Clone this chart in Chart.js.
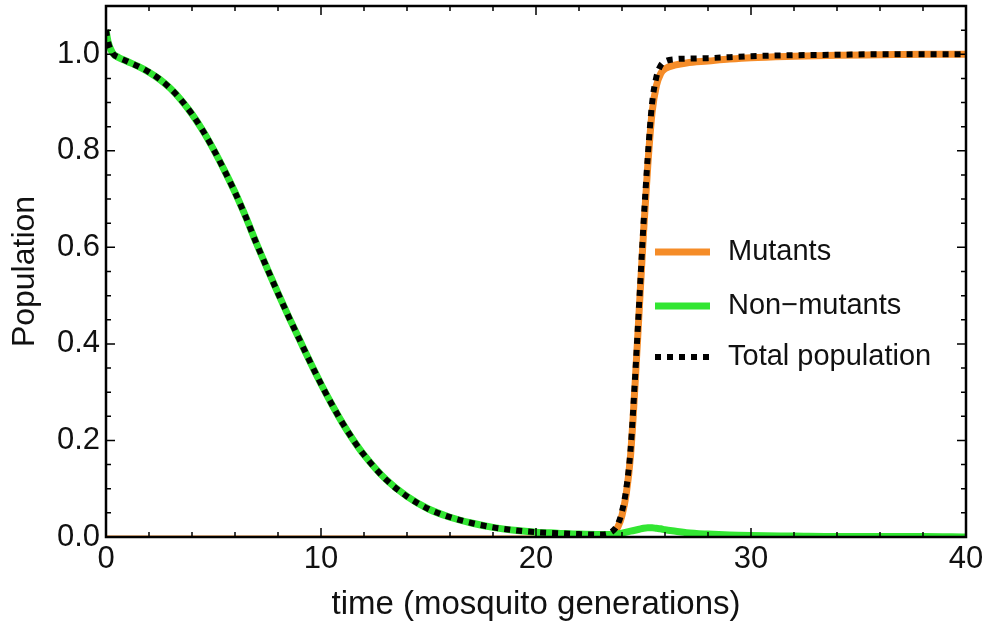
<!DOCTYPE html>
<html>
<head>
<meta charset="utf-8">
<script src="https://cdn.jsdelivr.net/npm/chart.js@4/dist/chart.umd.min.js"></script>
<style>
  html, body { margin: 0; padding: 0; background: #fff; }
  #wrap { width: 986px; height: 630px; }
</style>
</head>
<body>
<div id="wrap"><canvas id="myChart" width="986" height="630"></canvas></div>
<script>
/* Accent colors */
let colorOrange = 'rgb(245, 140, 40)';
let colorGreen = 'rgb(50, 230, 50)';
let colorBlack = 'rgb(0, 0, 0)';

// time (mosquito generations)
const time = [0, 0.1, 0.3, 0.6, 1, 1.5, 2, 2.5, 3, 3.5, 4, 4.5, 5, 5.5, 6, 6.5, 7, 7.5, 8, 8.5,
  9, 9.5, 10, 10.5, 11, 11.5, 12, 13, 14, 15, 16, 17, 18, 19, 20, 21, 22, 23, 23.5, 23.8,
  24, 24.2, 24.4, 24.6, 24.8, 25, 25.2, 25.4, 25.6, 25.8, 26, 26.5, 27, 28, 29, 30, 32, 34, 36, 38, 40];

const mutants = [-0.004, -0.004, -0.004, -0.004, -0.004, -0.004, -0.004, -0.004, -0.004, -0.004, -0.004, -0.004, -0.004, -0.004, -0.004, -0.004, -0.004, -0.004, -0.004, -0.004,
  -0.004, -0.004, -0.004, -0.004, -0.004, -0.004, -0.004, -0.004, -0.004, -0.004, -0.004, -0.004, -0.004, -0.004, -0.004, -0.004, -0.004, -0.003, 0.005, 0.02,
  0.045, 0.09, 0.17, 0.31, 0.47, 0.63, 0.77, 0.88, 0.935, 0.96, 0.97, 0.978, 0.982, 0.986, 0.99, 0.993, 0.996, 0.998, 0.999, 1.0, 1.0];

const nonMutants = [1.05, 1.025, 1.003, 0.993, 0.985, 0.975, 0.963, 0.948, 0.929, 0.905, 0.876, 0.842, 0.803, 0.76, 0.714, 0.663, 0.608, 0.556, 0.505, 0.456,
  0.409, 0.362, 0.317, 0.275, 0.236, 0.201, 0.17, 0.12, 0.084, 0.058, 0.041, 0.029, 0.02, 0.014, 0.01, 0.008, 0.006, 0.005, 0.005, 0.006,
  0.008, 0.01, 0.012, 0.014, 0.016, 0.018, 0.019, 0.019, 0.018, 0.017, 0.015, 0.012, 0.009, 0.006, 0.004, 0.003, 0.002, 0.001, 0.001, 0.001, 0];

const totalPop = [1.05, 1.025, 1.003, 0.993, 0.985, 0.975, 0.963, 0.948, 0.929, 0.905, 0.876, 0.842, 0.803, 0.76, 0.714, 0.663, 0.608, 0.556, 0.505, 0.456,
  0.409, 0.362, 0.317, 0.275, 0.236, 0.201, 0.17, 0.12, 0.084, 0.058, 0.041, 0.029, 0.02, 0.014, 0.01, 0.008, 0.006, 0.005, 0.01, 0.026,
  0.053, 0.1, 0.182, 0.324, 0.486, 0.648, 0.789, 0.899, 0.953, 0.977, 0.985, 0.99, 0.991, 0.992, 0.994, 0.996, 0.998, 0.999, 1.0, 1.0, 1.0];

const xTickValues = [0, 10, 20, 30, 40];
const yTickValues = [0, 0.2, 0.4, 0.6, 0.8, 1.0];

const pts = (ys) => time.map((t, i) => ({ x: t, y: ys[i] }));

const fontFamily = '"Liberation Sans", Arial, sans-serif';

// frame with inward ticks on all four sides, Mathematica style
const framePlugin = {
  id: 'frame',
  afterDatasetsDraw(chart) {
    const { ctx, chartArea: a, scales } = chart;
    const xs = scales.x, ys = scales.y;
    ctx.save();
    ctx.strokeStyle = '#000';
    ctx.lineWidth = 2.5;
    ctx.strokeRect(a.left, a.top, a.right - a.left, a.bottom - a.top);
    ctx.lineWidth = 1.5;
    ctx.beginPath();
    for (let v = 0; v <= 40; v += 2) {
      const px = xs.getPixelForValue(v);
      const len = v % 10 === 0 ? 9 : 5;
      ctx.moveTo(px, a.bottom); ctx.lineTo(px, a.bottom - len);
      ctx.moveTo(px, a.top); ctx.lineTo(px, a.top + len);
    }
    for (let k = 0; k <= 22; k++) {
      const v = k * 0.05;
      const py = ys.getPixelForValue(v);
      const len = k % 4 === 0 ? 9 : 5;
      ctx.moveTo(a.left, py); ctx.lineTo(a.left + len, py);
      ctx.moveTo(a.right, py); ctx.lineTo(a.right - len, py);
    }
    ctx.stroke();
    ctx.restore();
  },
  afterDraw(chart) {
    // legend inside the plot
    const { ctx } = chart;
    const x0 = 655, x1 = 710, tx = 728;
    const rows = [252, 306, 357];
    ctx.save();
    ctx.font = '29px ' + fontFamily;
    ctx.textBaseline = 'middle';
    chart.data.datasets.forEach((ds, i) => {
      const y = rows[i];
      ctx.strokeStyle = ds.borderColor;
      ctx.lineWidth = ds.borderWidth;
      ctx.setLineDash(ds.borderDash || []);
      ctx.beginPath();
      ctx.moveTo(x0, y); ctx.lineTo(x1, y);
      ctx.stroke();
      ctx.setLineDash([]);
      ctx.fillStyle = '#111';
      ctx.fillText(ds.label, tx, y);
    });
    ctx.restore();
  }
};

const data = {
  datasets: [
    {
      label: 'Mutants',
      data: pts(mutants),
      borderColor: colorOrange,
      borderWidth: 7,
      order: 2,
    },
    {
      label: 'Non\u2212mutants',
      data: pts(nonMutants),
      borderColor: colorGreen,
      borderWidth: 7,
      order: 1,
    },
    {
      label: 'Total population',
      data: pts(totalPop),
      borderColor: colorBlack,
      borderWidth: 6,
      borderDash: [6, 6],
      order: 0,
    },
  ],
};

const chartConfig = {
  type: 'line',
  data,
  plugins: [framePlugin],
  options: {
    responsive: false,
    animation: false,
    layout: { padding: { top: 6, right: 20, left: 0, bottom: 0 } },
    elements: {
      point: { radius: 0 },
      line: { cubicInterpolationMode: 'monotone', borderCapStyle: 'butt' },
    },
    plugins: {
      legend: { display: false },
      tooltip: { enabled: false },
    },
    scales: {
      x: {
        type: 'linear',
        min: 0,
        max: 40,
        grid: { display: false, drawTicks: false },
        border: { display: false },
        afterBuildTicks: (s) => { s.ticks = xTickValues.map((v) => ({ value: v })); },
        afterFit: (s) => { s.height = 93; s.paddingLeft = 0; s.paddingRight = 0; },
        ticks: {
          color: '#111',
          padding: 4,
          maxRotation: 0,
          font: { family: fontFamily, size: 31 },
        },
        title: {
          display: true,
          text: 'time (mosquito generations)',
          color: '#111',
          padding: { top: 0, bottom: 5 },
          font: { family: fontFamily, size: 33 },
        },
      },
      y: {
        min: 0,
        max: 1.1,
        grid: { display: false, drawTicks: false },
        border: { display: false },
        afterBuildTicks: (s) => { s.ticks = yTickValues.map((v) => ({ value: v })); },
        afterFit: (s) => { s.width = 106; s.paddingTop = 0; s.paddingBottom = 0; },
        ticks: {
          color: '#111',
          padding: 6,
          callback: (v) => Number(v).toFixed(1),
          font: { family: fontFamily, size: 31 },
        },
        title: {
          display: true,
          text: 'Population',
          color: '#111',
          padding: { top: 6, bottom: 0 },
          font: { family: fontFamily, size: 32 },
        },
      },
    },
  },
};

const ctx = document.getElementById('myChart').getContext('2d');
const myChart = new Chart(ctx, chartConfig);
</script>
</body>
</html>
